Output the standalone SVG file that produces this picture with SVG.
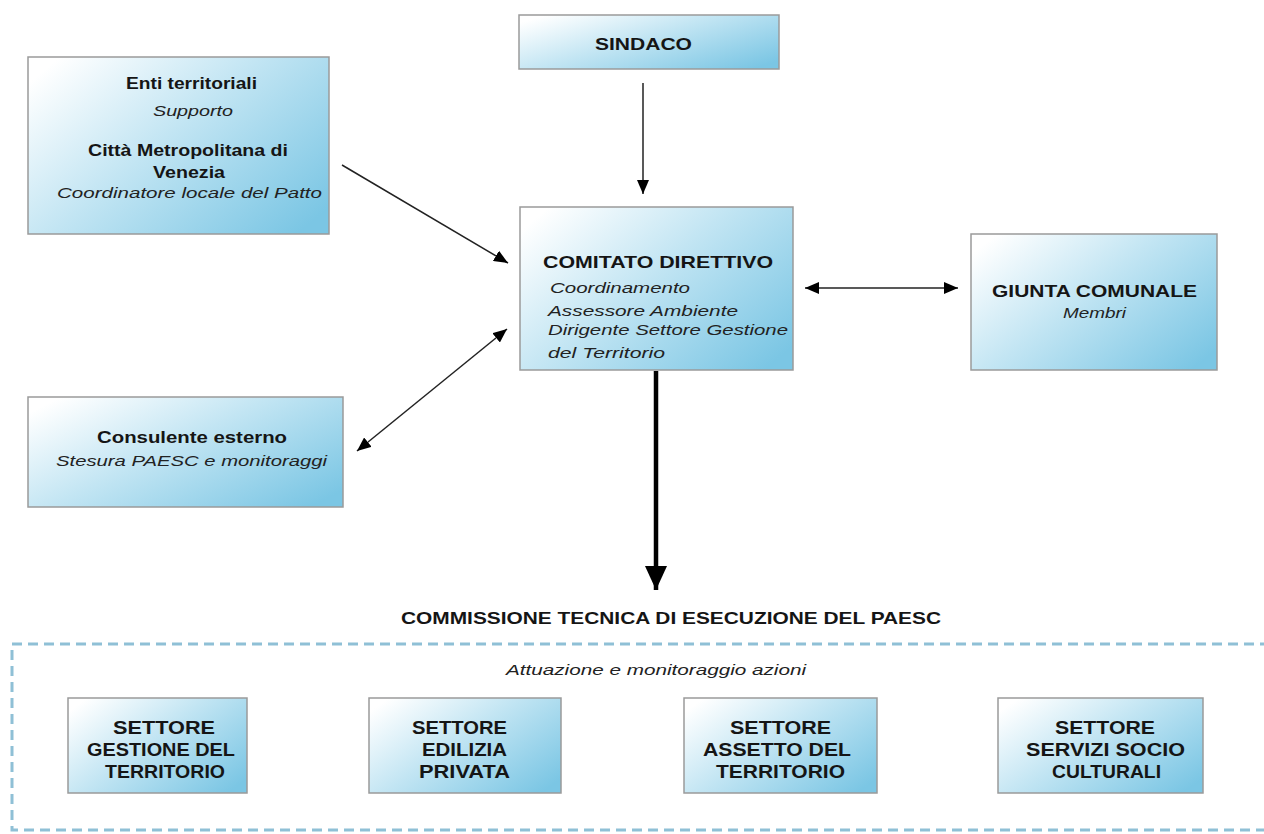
<svg xmlns="http://www.w3.org/2000/svg" width="1264" height="834" viewBox="0 0 1264 834">
<defs>
<linearGradient id="g" x1="0" y1="0.15" x2="1" y2="0.85">
<stop offset="0" stop-color="#ffffff"/>
<stop offset="0.45" stop-color="#c2e5f3"/>
<stop offset="1" stop-color="#7bc6e4"/>
</linearGradient>
<marker id="ah" viewBox="0 0 14 12" refX="14" refY="6" markerWidth="14" markerHeight="12" markerUnits="userSpaceOnUse" orient="auto-start-reverse">
<path d="M0,0 L14,6 L0,12 Z" fill="#000"/>
</marker>
<marker id="ahb" viewBox="0 0 24 22" refX="24" refY="11" markerWidth="24" markerHeight="22" markerUnits="userSpaceOnUse" orient="auto">
<path d="M0,0 L24,11 L0,22 Z" fill="#000"/>
</marker>
</defs>
<style>
.box{fill:url(#g);stroke:#9a9a9a;stroke-width:1.5}
.b{font-family:"Liberation Sans",Arial,sans-serif;font-weight:bold;font-size:17px;fill:#151515}
.bs{font-family:"Liberation Sans",Arial,sans-serif;font-weight:bold;font-size:19px;fill:#151515}
.i{font-family:"Liberation Sans",Arial,sans-serif;font-style:italic;font-size:15.5px;fill:#222}
.c{stroke:#222;stroke-width:1.5;fill:none}
</style>
<rect width="1264" height="834" fill="#fff"/>

<g id="connectors">
<line class="c" x1="643" y1="83" x2="643" y2="194" marker-end="url(#ah)"/>
<line class="c" x1="342" y1="165" x2="508" y2="263" marker-end="url(#ah)"/>
<line class="c" x1="357" y1="451" x2="507" y2="329" marker-start="url(#ah)" marker-end="url(#ah)"/>
<line class="c" x1="805" y1="288" x2="958" y2="288" marker-start="url(#ah)" marker-end="url(#ah)"/>
<line x1="656" y1="371" x2="656" y2="590" stroke="#000" stroke-width="4.5" marker-end="url(#ahb)"/>
</g>

<g id="sindaco">
<rect class="box" x="519" y="15" width="260" height="54"/>
<text class="b" x="595" y="50" textLength="97" lengthAdjust="spacingAndGlyphs">SINDACO</text>
</g>

<g id="enti">
<rect class="box" x="28" y="57" width="301" height="177"/>
<text class="b" x="126" y="89" textLength="131" lengthAdjust="spacingAndGlyphs">Enti territoriali</text>
<text class="i" x="153" y="116" textLength="80" lengthAdjust="spacingAndGlyphs">Supporto</text>
<text class="b" x="88" y="156" textLength="200" lengthAdjust="spacingAndGlyphs">Città Metropolitana di</text>
<text class="b" x="153" y="178" textLength="72" lengthAdjust="spacingAndGlyphs">Venezia</text>
<text class="i" x="57" y="198" textLength="265" lengthAdjust="spacingAndGlyphs">Coordinatore locale del Patto</text>
</g>

<g id="comitato">
<rect class="box" x="520" y="207" width="273" height="163"/>
<text class="b" x="543" y="268" textLength="230" lengthAdjust="spacingAndGlyphs">COMITATO DIRETTIVO</text>
<text class="i" x="550" y="293" textLength="140" lengthAdjust="spacingAndGlyphs">Coordinamento</text>
<text class="i" x="548" y="316" textLength="190" lengthAdjust="spacingAndGlyphs">Assessore Ambiente</text>
<text class="i" x="548" y="335" textLength="240" lengthAdjust="spacingAndGlyphs">Dirigente Settore Gestione</text>
<text class="i" x="548" y="358" textLength="117" lengthAdjust="spacingAndGlyphs">del Territorio</text>
</g>

<g id="giunta">
<rect class="box" x="971" y="234" width="246" height="136"/>
<text class="b" x="992" y="297" textLength="205" lengthAdjust="spacingAndGlyphs">GIUNTA COMUNALE</text>
<text class="i" x="1063" y="318" textLength="63" lengthAdjust="spacingAndGlyphs">Membri</text>
</g>

<g id="consulente">
<rect class="box" x="28" y="397" width="315" height="110"/>
<text class="b" x="97" y="443" textLength="190" lengthAdjust="spacingAndGlyphs">Consulente esterno</text>
<text class="i" x="56" y="466" textLength="271" lengthAdjust="spacingAndGlyphs">Stesura PAESC e monitoraggi</text>
</g>

<g id="commissione">
<text class="b" x="401" y="624" textLength="540" lengthAdjust="spacingAndGlyphs">COMMISSIONE TECNICA DI ESECUZIONE DEL PAESC</text>
<rect x="12" y="644" width="1270" height="186" fill="none" stroke="#8fc0d6" stroke-width="3" stroke-dasharray="10 6"/>
<text class="i" x="506" y="675" textLength="300" lengthAdjust="spacingAndGlyphs">Attuazione e monitoraggio azioni</text>
</g>

<g id="settore-gestione">
<rect class="box" x="68" y="698" width="179" height="95"/>
<text class="bs" x="113" y="734" textLength="102" lengthAdjust="spacingAndGlyphs">SETTORE</text>
<text class="bs" x="87" y="756" textLength="148" lengthAdjust="spacingAndGlyphs">GESTIONE DEL</text>
<text class="bs" x="105" y="778" textLength="120" lengthAdjust="spacingAndGlyphs">TERRITORIO</text>
</g>

<g id="settore-edilizia">
<rect class="box" x="369" y="698" width="192" height="95"/>
<text class="bs" x="412" y="734" textLength="95" lengthAdjust="spacingAndGlyphs">SETTORE</text>
<text class="bs" x="422" y="756" textLength="85" lengthAdjust="spacingAndGlyphs">EDILIZIA</text>
<text class="bs" x="419" y="778" textLength="91" lengthAdjust="spacingAndGlyphs">PRIVATA</text>
</g>

<g id="settore-assetto">
<rect class="box" x="684" y="698" width="193" height="95"/>
<text class="bs" x="730" y="734" textLength="101" lengthAdjust="spacingAndGlyphs">SETTORE</text>
<text class="bs" x="703" y="756" textLength="148" lengthAdjust="spacingAndGlyphs">ASSETTO DEL</text>
<text class="bs" x="716" y="778" textLength="129" lengthAdjust="spacingAndGlyphs">TERRITORIO</text>
</g>

<g id="settore-servizi">
<rect class="box" x="998" y="698" width="205" height="95"/>
<text class="bs" x="1055" y="734" textLength="100" lengthAdjust="spacingAndGlyphs">SETTORE</text>
<text class="bs" x="1026" y="756" textLength="159" lengthAdjust="spacingAndGlyphs">SERVIZI SOCIO</text>
<text class="bs" x="1052" y="778" textLength="109" lengthAdjust="spacingAndGlyphs">CULTURALI</text>
</g>
</svg>
